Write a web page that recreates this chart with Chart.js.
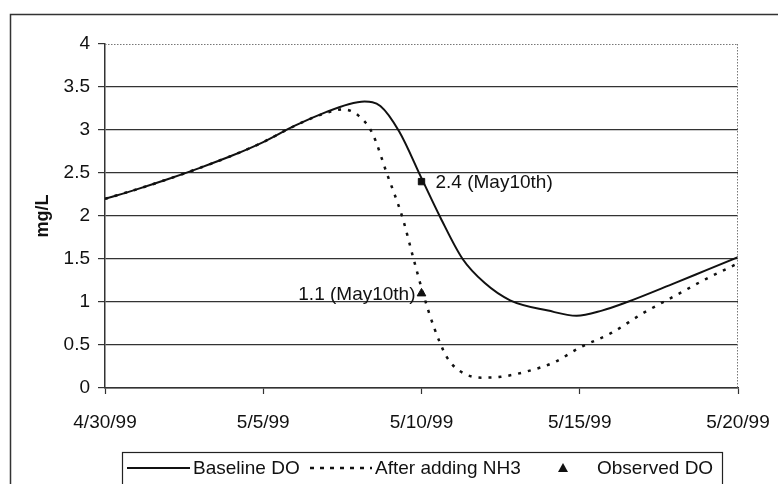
<!DOCTYPE html>
<html>
<head>
<meta charset="utf-8">
<script src="https://cdn.jsdelivr.net/npm/chart.js@4.4.0/dist/chart.umd.min.js"></script>
<style>
  html, body { margin: 0; padding: 0; background: #fff; }
  #wrap { width: 778px; height: 484px; }
</style>
</head>
<body>
<div id="wrap"><canvas id="myChart" width="778" height="484"></canvas></div>
<script>
/* data (x = days after 4/30/99) */
const DATE_TICKS = ['4/30/99', '5/5/99', '5/10/99', '5/15/99', '5/20/99'];
const SERIES_NAMES = ['Baseline DO', 'After adding NH3', 'Observed DO'];

const baselineDays = [0, 1, 2, 3, 4, 5, 6, 7, 7.7, 8.2, 8.7, 9.3, 10, 10.6, 11.3, 12, 12.8, 14, 14.9, 15.7, 16.5, 18, 19, 20];
const baselineDO   = [2.20, 2.31, 2.43, 2.56, 2.70, 2.86, 3.05, 3.21, 3.30, 3.33, 3.28, 2.98, 2.44, 1.98, 1.5, 1.22, 1.02, 0.90, 0.84, 0.90, 1.0, 1.22, 1.37, 1.52];

const nh3Days = [0, 1, 2, 3, 4, 5, 6, 7, 7.5, 8.0, 8.45, 8.9, 9.4, 9.75, 10.05, 10.4, 10.8, 11.2, 11.9, 12.5, 13.3, 14.2, 15, 16, 17, 18, 19, 20];
const nh3DO   = [2.20, 2.31, 2.43, 2.56, 2.70, 2.86, 3.05, 3.20, 3.24, 3.17, 2.96, 2.5, 1.98, 1.5, 1.1, 0.7, 0.36, 0.2, 0.12, 0.13, 0.19, 0.30, 0.47, 0.64, 0.87, 1.07, 1.27, 1.45];

const observedDays  = [10];
const observedDO    = [1.1];
const observedNotes = ['1.1 (May10th)'];

const baseMarkDays  = [10];
const baseMarkDO    = [2.4];
const baseMarkNotes = ['2.4 (May10th)'];

const toXY = (xs, ys) => xs.map((x, i) => ({ x, y: ys[i] }));

const FONT = '"Liberation Sans", Arial, sans-serif';
const INK = '#111';

const framePlugin = {
    id: 'frame',
    afterDraw(chart) {
        const { ctx, chartArea: a, scales } = chart;
        ctx.save();

        // outer chart frame (runs off the right/bottom of the picture)
        ctx.strokeStyle = '#333';
        ctx.lineWidth = 1.5;
        ctx.strokeRect(10.5, 14.5, 800, 500);

        // dotted plot-area border, top and right
        ctx.strokeStyle = '#777';
        ctx.lineWidth = 1;
        ctx.setLineDash([1.5, 1.5]);
        ctx.beginPath();
        ctx.moveTo(a.left, a.top + 0.5);
        ctx.lineTo(a.right, a.top + 0.5);
        ctx.moveTo(a.right - 0.5, a.top);
        ctx.lineTo(a.right - 0.5, a.bottom);
        ctx.stroke();
        ctx.setLineDash([]);

        // point notes
        ctx.fillStyle = INK;
        ctx.font = '19px ' + FONT;
        ctx.textBaseline = 'middle';
        baseMarkNotes.forEach((t, i) => {
            ctx.textAlign = 'left';
            ctx.fillText(t, scales.x.getPixelForValue(baseMarkDays[i]) + 14, scales.y.getPixelForValue(baseMarkDO[i]) + 1);
        });
        observedNotes.forEach((t, i) => {
            ctx.textAlign = 'right';
            ctx.fillText(t, scales.x.getPixelForValue(observedDays[i]) - 6, scales.y.getPixelForValue(observedDO[i]) + 1);
        });

        // legend
        const ly = 468;
        ctx.strokeStyle = '#222';
        ctx.lineWidth = 1.2;
        ctx.strokeRect(122.5, 452.5, 600, 40);

        ctx.strokeStyle = INK;
        ctx.lineWidth = 2;
        ctx.beginPath();
        ctx.moveTo(127, ly);
        ctx.lineTo(190, ly);
        ctx.stroke();

        ctx.lineWidth = 2.5;
        ctx.setLineDash([4, 6]);
        ctx.beginPath();
        ctx.moveTo(310, ly);
        ctx.lineTo(372, ly);
        ctx.stroke();
        ctx.setLineDash([]);

        ctx.beginPath();
        ctx.moveTo(563, ly - 5);
        ctx.lineTo(568, ly + 4);
        ctx.lineTo(558, ly + 4);
        ctx.closePath();
        ctx.fill();

        ctx.textAlign = 'left';
        ctx.fillText(SERIES_NAMES[0], 193, ly + 1);
        ctx.fillText(SERIES_NAMES[1], 375, ly + 1);
        ctx.fillText(SERIES_NAMES[2], 597, ly + 1);

        ctx.restore();
    }
};

new Chart(document.getElementById('myChart'), {
    type: 'line',
    data: {
        datasets: [
            {
                label: SERIES_NAMES[0],
                data: toXY(baselineDays, baselineDO),
                borderColor: INK,
                borderWidth: 2,
                pointRadius: 0,
                cubicInterpolationMode: 'monotone',
            },
            {
                label: SERIES_NAMES[1],
                data: toXY(nh3Days, nh3DO),
                borderColor: INK,
                borderWidth: 2.5,
                borderDash: [3, 7],
                pointRadius: 0,
                cubicInterpolationMode: 'monotone',
            },
            {
                label: SERIES_NAMES[2],
                data: toXY(observedDays, observedDO),
                showLine: false,
                pointStyle: 'triangle',
                pointRadius: 5,
                backgroundColor: INK,
                borderColor: INK,
            },
            {
                label: 'Baseline DO (May10th)',
                data: toXY(baseMarkDays, baseMarkDO),
                showLine: false,
                pointStyle: 'rect',
                pointRadius: 4.5,
                backgroundColor: INK,
                borderColor: INK,
            },
        ]
    },
    options: {
        responsive: false,
        devicePixelRatio: 1,
        animation: false,
        layout: { padding: { left: 0, top: 44, right: 40, bottom: 56 } },
        plugins: {
            legend: { display: false },
            tooltip: { enabled: false },
        },
        scales: {
            x: {
                type: 'linear',
                min: 0,
                max: 20,
                afterFit(scale) {
                    scale.height = 40;
                    scale.paddingLeft = 0;
                    scale.paddingRight = 0;
                },
                ticks: {
                    stepSize: 5,
                    padding: 17,
                    maxRotation: 0,
                    color: INK,
                    font: { family: FONT, size: 19 },
                    callback: v => DATE_TICKS[v / 5],
                },
                grid: { drawOnChartArea: false, tickLength: 6, tickColor: '#333', tickWidth: 1.2 },
                border: { color: '#333', width: 1.5 },
            },
            y: {
                min: 0,
                max: 4,
                afterFit(scale) { scale.width = 105; },
                ticks: {
                    stepSize: 0.5,
                    padding: 8,
                    color: INK,
                    font: { family: FONT, size: 19 },
                    callback: v => String(v),
                },
                grid: {
                    color: ctx => ctx.tick && ctx.tick.value === 4 ? 'rgba(0,0,0,0)' : '#333',
                    lineWidth: 1.2,
                    tickLength: 7,
                    tickColor: '#333',
                },
                border: { color: '#333', width: 1.5 },
                title: {
                    display: true,
                    text: 'mg/L',
                    color: INK,
                    font: { family: FONT, size: 18, weight: 'bold' },
                    padding: { top: 32, bottom: 0 },
                },
            },
        },
    },
    plugins: [framePlugin],
});
</script>
</body>
</html>
